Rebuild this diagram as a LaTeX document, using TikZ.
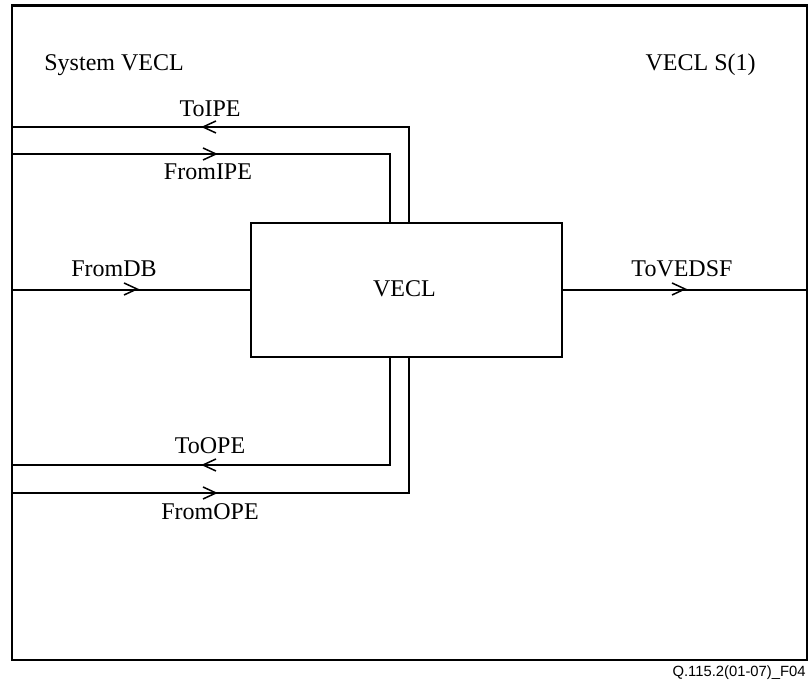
\documentclass[tikz,border=0pt]{standalone}
\usepackage{fontspec}
\setmainfont{Liberation Serif}
\newfontfamily\figsans{Liberation Sans}
\begin{document}
\begin{tikzpicture}[x=0.5pt,y=-0.5pt,
  lbl/.style={inner sep=0pt,anchor=base,font=\fontsize{12}{14}\selectfont},
  sig/.style={line width=0.8pt},
  chev/.pic={\draw[line width=0.75pt] (-13,-6) -- (0,0) -- (-13,6);}]
\useasboundingbox (0,0) rectangle (811,684);

% system frame and the VECL process box
\node[draw,line width=1.2pt,inner sep=0pt,anchor=north west,
      minimum width=397.5pt,minimum height=327.3pt] (frame) at (11,4.5) {};
\node[draw,line width=1pt,inner sep=0pt,anchor=north west,
      minimum width=155.5pt,minimum height=67pt] (vecl) at (250,222) {};
\node[lbl] (veclname) at (404.5,297) {VECL};

% header texts
\node[lbl,anchor=base west] (sysname) at (44,71) {System VECL};
\node[lbl,anchor=base east] (sysref) at (756,71) {VECL S(1)};

% bend points of the signal routes
\coordinate (ipeTo) at (409,127);
\coordinate (ipeFrom) at (390,154);
\coordinate (opeTo) at (390,465);
\coordinate (opeFrom) at (409,493);

% signal routes
\draw[sig] (ipeTo |- vecl.north) |- (frame.west |- ipeTo);
\draw[sig] (frame.west |- ipeFrom) -| (ipeFrom |- vecl.north);
\draw[sig] (frame.west |- vecl.west) -- (vecl.west);
\draw[sig] (vecl.east) -- (frame.east |- vecl.east);
\draw[sig] (opeTo |- vecl.south) |- (frame.west |- opeTo);
\draw[sig] (frame.west |- opeFrom) -| (opeFrom |- vecl.south);

% direction marks
\pic[rotate=180] at (203,127) {chev};
\pic at (216,154) {chev};
\pic at (137,289) {chev};
\pic at (685,289) {chev};
\pic[rotate=180] at (203,465) {chev};
\pic at (216,493) {chev};

% signal names
\node[lbl] (lToIPE) at (210,117) {ToIPE};
\node[lbl] (lFromIPE) at (208,180) {FromIPE};
\node[lbl] (lFromDB) at (114,277) {FromDB};
\node[lbl] (lToVEDSF) at (682,277) {ToVEDSF};
\node[lbl] (lToOPE) at (210,454) {ToOPE};
\node[lbl] (lFromOPE) at (210,520) {FromOPE};

% figure reference
\node[inner sep=0pt,anchor=base east,font=\figsans\fontsize{7.4}{9}\selectfont]
  (figref) at (806,677) {Q.115.2(01-07)\_F04};
\end{tikzpicture}
\end{document}
